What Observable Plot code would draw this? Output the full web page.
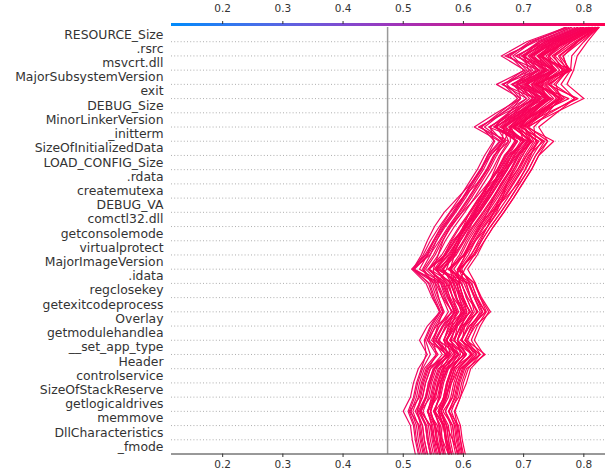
<!DOCTYPE html>
<html><head><meta charset="utf-8">
<script src="https://cdn.jsdelivr.net/npm/d3@7"></script>
<script src="https://cdn.jsdelivr.net/npm/@observablehq/plot@0.6"></script>
<style>body{margin:0;background:#fff;}svg{display:block}</style>
</head><body><div id="chart"></div>
<script>
// Features, top to bottom
const features = ["RESOURCE_Size", ".rsrc", "msvcrt.dll", "MajorSubsystemVersion", "exit", "DEBUG_Size",
  "MinorLinkerVersion", "_initterm", "SizeOfInitializedData", "LOAD_CONFIG_Size", ".rdata", "createmutexa",
  "DEBUG_VA", "comctl32.dll", "getconsolemode", "virtualprotect", "MajorImageVersion", ".idata", "regclosekey",
  "getexitcodeprocess", "Overlay", "getmodulehandlea", "__set_app_type", "Header", "controlservice",
  "SizeOfStackReserve", "getlogicaldrives", "memmove", "DllCharacteristics", "_fmode"];
const xTicks = [0.2, 0.3, 0.4, 0.5, 0.6, 0.7, 0.8];
const baseValue = 0.474;
const xDomain = [0.115, 0.836];
// cumulative model output (thousandths), from the bottom of the plot (k=0) to the top (k=30 = prediction)
const samples = [
[520,515,512,500,512,517,525,540,527,540,561,548,538,514,536,550,565,582,598,613,628,640,660,618,655,695,655,702,663,705,770],
[527,522,519,510,519,524,532,545,537,547,562,552,544,516,530,540,552,568,590,612,630,640,652,630,660,690,667,700,677,710,775],
[535,530,527,511,527,532,540,573,540,555,582,565,554,516,544,560,575,592,608,623,638,650,675,625,670,720,664,725,669,720,780],
[530,525,522,513,522,527,535,555,540,550,565,555,547,532,545,555,568,585,600,612,628,645,668,635,665,695,672,705,682,715,772],
[540,535,532,520,532,537,545,572,547,560,581,568,558,519,541,555,570,587,603,618,633,645,665,643,680,720,680,727,688,730,790],
[537,532,529,523,529,534,542,555,550,557,566,559,553,550,558,566,578,598,620,640,660,675,690,652,675,695,689,708,701,725,785],
[545,540,537,528,537,542,550,570,555,565,580,570,562,537,553,565,580,597,613,628,643,655,670,655,685,715,692,725,702,735,795],
[547,542,539,527,539,544,552,579,554,567,588,575,565,542,564,578,593,610,626,641,656,668,688,653,690,730,690,737,698,740,800],
[562,552,545,530,538,545,552,570,558,572,590,578,568,542,558,570,585,602,618,633,648,660,675,665,695,725,702,735,712,745,798],
[553,548,545,529,545,550,558,591,558,573,600,583,572,541,569,585,600,617,633,648,663,675,700,642,687,737,681,742,686,737,790],
[555,550,547,541,547,552,560,573,568,575,584,577,571,555,570,585,603,620,632,642,652,662,678,677,700,720,714,733,726,750,805],
[557,552,549,540,549,554,562,582,567,577,592,582,574,554,574,590,606,618,628,640,656,670,688,663,693,723,700,733,710,743,800],
[560,555,552,540,552,557,565,592,567,580,601,588,578,554,576,590,605,622,638,653,668,680,700,665,702,742,702,749,710,752,810],
[562,557,554,545,554,559,567,587,572,582,597,587,579,552,568,580,595,612,628,643,658,670,685,680,710,740,717,750,727,760,808],
[575,565,552,545,550,560,575,592,572,588,602,588,580,567,583,595,610,627,643,658,673,685,700,675,705,735,712,745,722,755,805],
[565,560,557,541,557,562,570,603,570,585,612,595,584,543,571,587,602,619,635,650,665,677,702,652,697,747,691,752,696,747,800],
[567,562,559,553,559,564,572,585,580,587,596,589,583,578,585,592,602,615,630,648,665,680,700,692,715,735,729,748,741,765,812],
[580,572,566,552,560,562,568,585,572,585,600,593,590,562,578,590,605,622,638,653,668,680,695,677,707,737,714,747,724,757,810],
[570,565,562,550,562,567,575,602,577,590,611,598,588,566,588,602,617,634,650,665,680,692,712,683,720,760,720,767,728,770,815],
[560,562,565,560,570,578,585,605,585,590,605,596,588,565,581,593,608,625,641,656,671,683,698,670,700,730,707,740,717,750,805],
[575,570,567,558,567,572,580,600,585,595,610,600,592,577,593,605,620,637,653,668,683,695,710,683,713,743,720,753,730,763,812],
[577,572,569,553,569,574,582,615,582,597,624,607,596,556,584,600,615,632,648,663,678,690,715,680,725,775,719,780,724,775,818],
[577,572,569,563,569,574,582,595,590,597,606,599,593,590,604,620,640,655,665,672,683,698,712,694,717,737,731,750,743,767,815],
[580,575,572,563,572,577,585,605,590,600,615,605,597,580,596,608,623,640,656,671,686,698,713,700,730,760,737,770,747,780,820],
[583,578,575,563,575,580,588,615,590,603,624,611,601,579,601,615,630,647,663,678,693,705,725,686,723,763,723,770,731,773,818],
[592,582,572,560,570,580,592,615,598,602,618,612,605,584,600,612,627,644,660,675,690,702,717,702,732,768,745,772,758,788,822],
[587,582,579,570,579,584,592,612,597,607,622,612,604,592,603,612,625,645,670,690,702,712,722,698,728,758,735,765,750,778,820],
[590,585,582,566,582,587,595,628,595,610,637,620,609,574,602,618,633,650,666,681,696,708,733,695,740,790,740,778,760,790,825],
[593,588,585,576,585,590,598,618,603,613,628,618,610,597,613,625,640,657,673,688,703,715,730,705,735,765,742,775,752,785,822],
[595,590,587,575,587,592,600,627,602,615,636,623,613,594,616,630,645,662,678,693,708,720,740,708,745,785,750,775,765,795,825],
[600,595,592,576,592,597,605,636,605,620,645,630,619,591,619,635,650,667,683,698,713,725,750,705,752,800,772,783,789,806,825],
[603,598,595,586,595,600,608,628,613,623,638,628,620,607,623,635,650,667,683,698,713,725,740,725,755,785,762,778,780,800,823],
[525,520,517,508,517,522,530,538,535,545,560,550,542,517,533,545,560,577,593,608,623,635,650,645,675,705,682,715,692,725,778],
[545,540,537,525,537,542,550,577,552,565,586,573,563,516,538,552,567,584,600,615,630,642,662,628,665,705,665,712,673,715,768],
[580,575,572,563,572,577,585,605,590,600,615,605,597,557,568,582,604,625,640,650,660,672,690,655,685,715,692,725,702,735,795],
[540,535,532,523,532,537,545,565,550,560,575,565,557,572,580,590,600,610,625,645,668,688,708,690,720,750,727,760,737,770,810],
[598,595,590,585,595,605,612,634,618,628,642,628,618,592,608,620,635,652,668,683,698,710,725,685,715,745,722,755,732,765,815],
[560,555,552,546,552,557,565,578,573,580,589,582,576,595,612,628,640,650,660,672,690,705,720,717,740,760,754,773,766,790,820],
[590,585,582,570,582,587,595,622,597,610,631,618,608,559,581,595,610,627,643,658,673,685,705,668,705,745,705,752,713,755,805],
[533,528,525,516,525,530,538,558,543,553,568,558,550,534,550,562,577,594,610,625,640,652,667,680,710,740,717,750,727,760,808],
[568,563,560,551,560,565,573,593,578,588,603,593,585,565,586,600,612,620,632,650,672,690,706,650,680,710,687,720,697,730,790],
[575,570,567,558,567,572,580,600,585,595,610,600,592,602,618,630,645,662,678,693,708,720,735,695,725,755,732,765,742,775,815],
[550,545,542,533,542,547,555,575,560,570,585,575,567,527,540,550,563,578,598,622,640,652,664,667,697,727,704,737,714,747,800],
[597,592,589,580,589,594,602,622,607,617,632,622,614,577,600,615,628,640,650,662,678,692,708,660,690,720,697,730,707,740,798]
];

const n = features.length;
const interp = d3.interpolateRgbBasis(["#008bfb", "#5a69e6", "#9b34c2", "#d7137f", "#ff0052"]);
const color = v => interp(Math.max(0, Math.min(1, (v - xDomain[0]) / (xDomain[1] - xDomain[0]))));

const rows = samples.flatMap((vals, s) => vals.map((v, k) => ({s, k, x: v / 1000, final: vals[vals.length - 1] / 1000})));

const cbN = 240;
const cbStep = (xDomain[1] - xDomain[0]) / cbN;
const cb = d3.range(cbN).map(i => xDomain[0] + i * cbStep);

const chart = Plot.plot({
  width: 607,
  height: 472,
  marginLeft: 171,
  marginRight: 2,
  marginTop: 27,
  marginBottom: 18.5,
  style: {fontFamily: "DejaVu Sans", color: "#333", background: "#fff"},
  x: {domain: xDomain, label: null},
  y: {domain: [0, n], label: null},
  color: {type: "identity"},
  marks: [
    Plot.ruleY(d3.range(1, n), {stroke: "#999", strokeDasharray: "1,2.2", strokeWidth: 0.8}),
    Plot.ruleX([baseValue], {y1: 0, y2: n, stroke: "#999", strokeWidth: 1.5}),
    Plot.line(rows, {x: "x", y: "k", z: "s", stroke: d => color(d.final), strokeWidth: 1.2, curve: "linear"}),
    Plot.rect(cb, {x1: d => d, x2: d => d + cbStep * 1.05, y1: n + 0.06, y2: n + 0.29, fill: d => color(d + cbStep / 2), shapeRendering: "crispEdges"}),
    Plot.ruleY([0], {stroke: "#333", strokeWidth: 1}),
    Plot.axisX({anchor: "bottom", ticks: xTicks, tickFormat: d3.format(".1f"), tickSize: 3.5, tickPadding: 3, fontSize: 10.5, stroke: "#333", label: null}),
    Plot.axisX({anchor: "top", ticks: xTicks, tickFormat: d3.format(".1f"), tickSize: 3, tickPadding: 9, dy: -4, fontSize: 10.5, stroke: "#333", label: null}),
    Plot.axisY({ticks: features.map((d, i) => n - 0.5 - i), tickFormat: t => features[Math.round(n - 0.5 - t)], tickSize: 0, tickPadding: 8, fontSize: 12.4, fill: "#333", label: null})
  ]
});
document.getElementById("chart").appendChild(chart);
</script>
</body></html>
